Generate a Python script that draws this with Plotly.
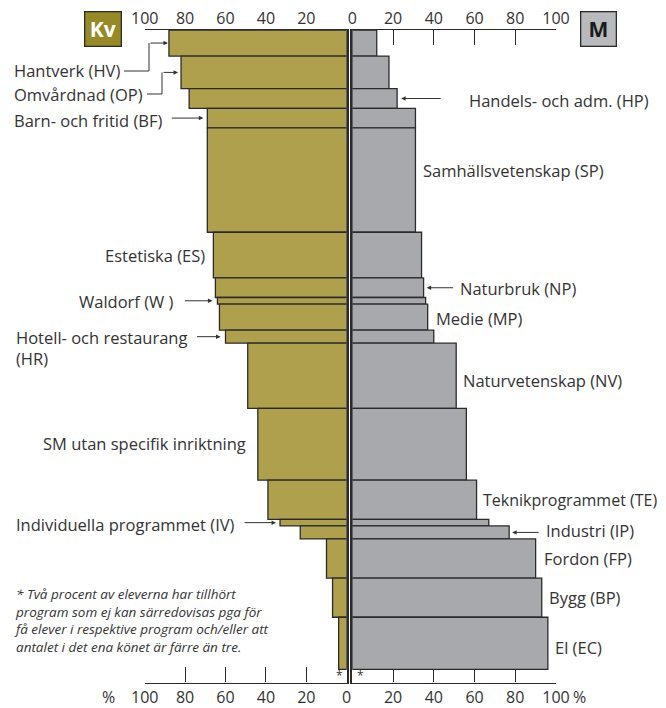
import numpy as np
import plotly.graph_objects as go

OFF = 8  # page body margin in front of the figure
W, H = 666 - OFF, 708 - OFF

# programme bands, top to bottom
codes = ["HV", "OP", "HP", "BF", "SP", "ES", "NP", "W", "MP", "HR",
         "NV", "SM", "TE", "IV", "IP", "FP", "BP", "EC"]
names = ["Hantverk (HV)", "Omvårdnad (OP)", "Handels- och adm. (HP)",
         "Barn- och fritid (BF)", "Samhällsvetenskap (SP)", "Estetiska (ES)",
         "Naturbruk (NP)", "Waldorf (W )", "Medie (MP)",
         "Hotell- och restaurang<br>(HR)", "Naturvetenskap (NV)",
         "SM utan specifik inriktning", "Teknikprogrammet (TE)",
         "Individuella programmet (IV)", "Industri (IP)", "Fordon (FP)",
         "Bygg (BP)", "El (EC)"]
# share of all students (%) -> band height
share = [4, 5, 3, 3, 16, 7, 3, 1, 4, 2, 10, 11, 6, 1, 2, 6, 6, 8]
other_share = 2  # the "*" band
# share of women / men within each programme (%)
women = [88, 82, 78, 69, 69, 66, 65, 64, 63, 60, 49, 44, 39, 33, 23, 10, 7, 4]
men = [12, 18, 22, 31, 31, 34, 35, 36, 37, 40, 51, 56, 61, 67, 77, 90, 93, 96]
tick_vals = [0, 20, 40, 60, 80, 100]

OLIVE = "#AEA04C"
OLIVE_DARK = "#978A26"
GREY = "#A8A9AD"
GREY_BOX = "#B9BABE"
EDGE = "#2b2b2b"
TXT = "#333333"
FONT = "Open Sans"

edges = np.concatenate([[0], np.cumsum(share)])
centers = edges[:-1] + np.array(share) / 2
other_center = edges[-1] + other_share / 2
ymax = edges[-1] + other_share


def px(x):
    return (x - OFF) / W


def py(y):
    return 1 - (y - OFF) / H


fig = go.Figure()
fig.add_trace(go.Bar(
    y=centers, x=women, width=share, orientation="h", xaxis="x", yaxis="y",
    marker=dict(color=OLIVE, line=dict(color=EDGE, width=1.3)),
    customdata=codes, hovertemplate="%{customdata}: %{x}% kvinnor<extra></extra>",
))
fig.add_trace(go.Bar(
    y=centers, x=men, width=share, orientation="h", xaxis="x2", yaxis="y2",
    marker=dict(color=GREY, line=dict(color=EDGE, width=1.3)),
    customdata=codes, hovertemplate="%{customdata}: %{x}% män<extra></extra>",
))
# invisible carriers for the bottom tick-label axes
for xa, ya in [("x3", "y"), ("x4", "y2")]:
    fig.add_trace(go.Scatter(x=[0], y=[0], xaxis=xa, yaxis=ya, mode="markers",
                             marker=dict(opacity=0), hoverinfo="skip"))

left_dom = [px(144.7), px(346.7)]
right_dom = [px(352.3), px(556)]
y_dom = [py(682.5), py(30)]
tick_font = dict(family=FONT, size=16, color=TXT)

axis_x = dict(ticks="inside", ticklen=15, tickwidth=1.3, tickcolor=EDGE,
              showline=True, linecolor=EDGE, linewidth=1.3, mirror="ticks",
              showgrid=False, zeroline=False, layer="below traces",
              tickvals=tick_vals, tickfont=tick_font, fixedrange=True,
              automargin=False, ticklabelstandoff=-2)
axis_lbl = dict(showline=False, ticks="", showgrid=False, zeroline=False,
                tickvals=tick_vals, tickfont=tick_font, side="bottom",
                fixedrange=True, automargin=False, ticklabelstandoff=3)
axis_y = dict(domain=y_dom, range=[ymax, 0], showline=True, linecolor=EDGE,
              linewidth=1.5, ticks="", showticklabels=False, showgrid=False,
              zeroline=False, fixedrange=True, automargin=False)

fig.update_layout(
    width=W, height=H, margin=dict(l=0, r=0, t=0, b=0, autoexpand=False),
    paper_bgcolor="white", plot_bgcolor="white", showlegend=False,
    font=dict(family=FONT, size=16.5, color=TXT),
    xaxis=dict(axis_x, domain=left_dom, range=[100, 0], side="top", anchor="y",
               ticktext=["", "20", "40", "60", "80", "100"]),
    xaxis2=dict(axis_x, domain=right_dom, range=[0, 100], side="top", anchor="y2",
                ticktext=[str(v) for v in tick_vals]),
    xaxis3=dict(axis_lbl, overlaying="x", range=[100, 0], anchor="y",
                ticktext=[str(v) for v in tick_vals]),
    xaxis4=dict(axis_lbl, overlaying="x2", range=[0, 100], anchor="y2",
                ticktext=["", "20", "40", "60", "80", "100"]),
    yaxis=dict(axis_y, anchor="x", side="right"),
    yaxis2=dict(axis_y, anchor="x2", side="left"),
)

ann = []
# gender boxes
ann.append(dict(xref="paper", yref="paper", x=px(102.5), y=py(29.5), text="<b>Kv</b>",
                xanchor="center", yanchor="middle", showarrow=False, bgcolor=OLIVE_DARK,
                bordercolor=EDGE, borderwidth=1.3, width=33, height=31, borderpad=1,
                font=dict(family=FONT, size=21, color="white")))
ann.append(dict(xref="paper", yref="paper", x=px(598), y=py(29.5), text="<b>M</b>",
                xanchor="center", yanchor="middle", showarrow=False, bgcolor=GREY_BOX,
                bordercolor=EDGE, borderwidth=1.3, width=32, height=31, borderpad=1,
                font=dict(family=FONT, size=21, color="#1a1a1a")))
# % signs beside the bottom scales
ann.append(dict(xref="x", yref="paper", x=100, y=py(697), xanchor="right", yanchor="middle",
                xshift=-28, text="%", showarrow=False, font=tick_font))
ann.append(dict(xref="x2", yref="paper", x=100, y=py(697), xanchor="left", yanchor="middle",
                xshift=15, text="%", showarrow=False, font=tick_font))
# the "*" band
ann.append(dict(xref="x", yref="y", x=0, y=other_center, xshift=-7, text="*",
                yanchor="middle", showarrow=False, font=dict(size=12)))
ann.append(dict(xref="x2", yref="y2", x=0, y=other_center, xshift=8, text="*",
                yanchor="middle", showarrow=False, font=dict(size=12)))

# labels left-aligned at the page edge (women side)
for i, xl, yl in [(0, 12, 71), (1, 12, 94), (3, 12, 120), (9, 14, 348), (13, 14, 524)]:
    ann.append(dict(xref="paper", yref="paper", x=px(xl), y=py(yl), xanchor="left",
                    yanchor="middle", align="left", text=names[i], showarrow=False))
# label right-aligned at fixed spot
ann.append(dict(xref="paper", yref="paper", x=px(176), y=py(301), xanchor="right",
                yanchor="middle", text=names[7], showarrow=False))
# labels next to the women bars
for i, dx, yl in [(5, -6, 255), (11, -10, 443)]:
    ann.append(dict(xref="x", yref="paper", x=women[i], y=py(yl), xanchor="right",
                    yanchor="middle", xshift=dx, text=names[i], showarrow=False))
# labels next to the men bars
for i, dx, yl, fs in [(4, 6, 170, 16.5), (8, 6, 318, 16.5), (10, 5, 381, 16.5),
                      (12, 4, 500, 16), (15, 6, 558, 16.5), (16, 5, 597, 16.5),
                      (17, 5, 647, 16.5)]:
    ann.append(dict(xref="x2", yref="paper", x=men[i], y=py(yl), xanchor="left",
                    yanchor="middle", xshift=dx, text=names[i], showarrow=False,
                    font=dict(size=fs)))
# labels with arrows on the men side
for i, xl, yl in [(2, 467, 100), (6, 458, 288), (14, 544, 530)]:
    ann.append(dict(xref="paper", yref="paper", x=px(xl), y=py(yl), xanchor="left",
                    yanchor="middle", text=names[i], showarrow=False))

arrow = dict(text="", showarrow=True, arrowhead=2, arrowsize=0.9, arrowwidth=1,
             arrowcolor=TXT, ay=0)
for i, ax, so in [(0, -20, 1), (1, -19, 3), (3, -37, 4), (7, -34, 5), (9, -30, 5), (13, -37, 4)]:
    ann.append(dict(arrow, xref="x", yref="y", x=women[i], y=centers[i], ax=ax, standoff=so))
for i, ax, so in [(2, 45, 4), (6, 31, 3), (14, 31, 3)]:
    ann.append(dict(arrow, xref="x2", yref="y2", x=men[i], y=centers[i], ax=ax, standoff=so))

# footnote
ann.append(dict(xref="paper", yref="paper", x=px(12), y=py(620), xanchor="left",
                yanchor="middle", align="left", showarrow=False,
                font=dict(family=FONT, size=13.5, color=TXT, style="italic"),
                text="* Två procent av eleverna har tillhört<br>"
                     "program som ej kan särredovisas pga för<br>"
                     "få elever i respektive program och/eller att<br>"
                     "antalet i det ena könet är färre än tre."))

fig.update_layout(annotations=ann)

# elbow connectors for the two top labels
line = dict(color=TXT, width=1)
fig.add_shape(type="path", xref="paper", yref="paper", line=line,
              path=f"M {px(124)} {py(71)} L {px(149)} {py(71)} L {px(149)} {py(43)}")
fig.add_shape(type="path", xref="paper", yref="paper", line=line,
              path=f"M {px(147)} {py(94)} L {px(162)} {py(94)} L {px(162)} {py(72.4)}")

fig.write_html("out.html")
